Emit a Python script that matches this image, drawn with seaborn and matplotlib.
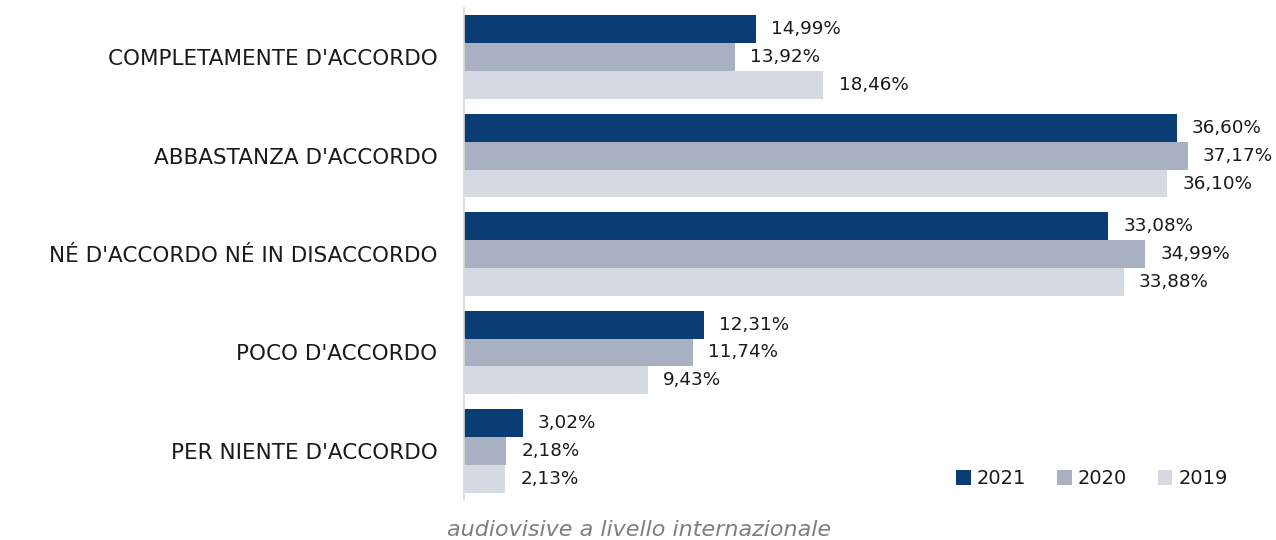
import matplotlib
matplotlib.use("Agg")
import matplotlib.pyplot as plt
import seaborn as sns
import pandas as pd

categories = [
    "COMPLETAMENTE D'ACCORDO",
    "ABBASTANZA D'ACCORDO",
    "NÉ D'ACCORDO NÉ IN DISACCORDO",
    "POCO D'ACCORDO",
    "PER NIENTE D'ACCORDO",
]
years = ["2021", "2020", "2019"]
values_2021 = [14.99, 36.60, 33.08, 12.31, 3.02]
values_2020 = [13.92, 37.17, 34.99, 11.74, 2.18]
values_2019 = [18.46, 36.10, 33.88, 9.43, 2.13]
colors = ["#0B3D75", "#A8B0C2", "#D5D9E2"]
caption = "audiovisive a livello internazionale"

series = {"2021": values_2021, "2020": values_2020, "2019": values_2019}
df = pd.DataFrame(
    [(c, y, v) for y in years for c, v in zip(categories, series[y])],
    columns=["categoria", "anno", "valore"],
)

sns.set_theme(style="white")
plt.rcParams["font.family"] = ["DejaVu Sans"]

fig = plt.figure(figsize=(12.76, 5.4), dpi=100)
ax = fig.add_axes([0.3636, 0.074, 0.6104, 0.911])

sns.barplot(
    data=df, y="categoria", x="valore", hue="anno", orient="h",
    order=categories, hue_order=years, palette=colors,
    width=0.85, saturation=1, linewidth=0, ax=ax, legend=True,
)

for container, y in zip(ax.containers, years):
    labels = [f"{v:.2f}%".replace(".", ",") for v in series[y]]
    ax.bar_label(container, labels=labels, padding=11, fontsize=13.2,
                 color="#1a1a1a")

ax.set_xlim(0, 40)
ax.set_ylim(4.5, -0.5)
ax.set_xlabel("")
ax.set_ylabel("")
ax.set_xticks([])
ax.tick_params(axis="y", length=0, pad=19, labelsize=15.5, labelcolor="#1a1a1a")
for side in ["top", "right", "bottom"]:
    ax.spines[side].set_visible(False)
ax.spines["left"].set_color("#D9D9D9")
ax.spines["left"].set_linewidth(1.2)

leg = ax.legend(
    loc="lower right", bbox_to_anchor=(0.998, -0.004), ncol=3, frameon=False,
    fontsize=14, handlelength=0.75, handleheight=0.75, handletextpad=0.3,
    columnspacing=1.6, borderpad=0.2,
)
for t in leg.get_texts():
    t.set_color("#1a1a1a")

fig.text(0.501, 1 - 530 / 540, caption, ha="center", va="center",
         fontsize=16, style="italic", color="#7F7F7F")

fig.savefig("out.png", dpi=100)
